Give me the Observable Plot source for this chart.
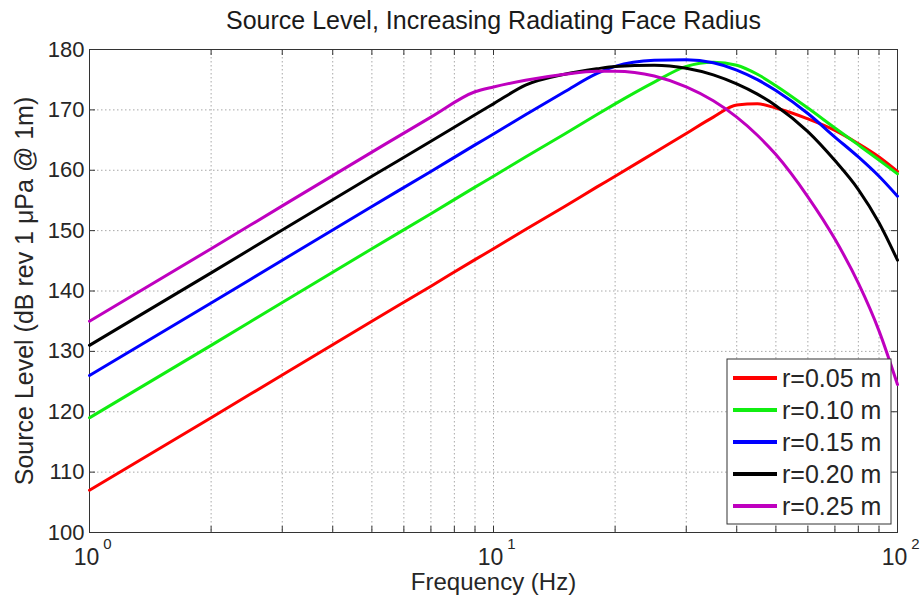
<!DOCTYPE html>
<html>
<head>
<meta charset="utf-8">
<script src="https://cdn.jsdelivr.net/npm/d3@7"></script>
<script src="https://cdn.jsdelivr.net/npm/@observablehq/plot@0.6"></script>
<style>
  html, body { margin: 0; padding: 0; background: #fff; }
  #chart { width: 920px; height: 603px; }
  #chart svg { display: block; }
</style>
</head>
<body>
<div id="chart"></div>
<script>
// Source level versus frequency for five radiating face radii
const frequencies = [1, 2, 3, 5, 7, 9, 10, 12, 15, 18, 20, 25, 30, 35, 40, 45, 50, 60, 70, 80, 90, 100];

const levelR005 = [107, 119.0, 126.1, 135.0, 140.8, 145.2, 147.0, 150.2, 154.0, 157.2, 159.0, 162.9, 166.1, 168.8, 170.8, 171.0, 170.3, 168.5, 166.6, 164.4, 162.2, 159.8];
const levelR010 = [119, 131.0, 138.1, 147.0, 152.8, 157.2, 159.0, 162.2, 166.0, 169.2, 171.0, 174.6, 177.2, 177.9, 177.4, 175.9, 174.0, 170.3, 167.0, 164.2, 161.7, 159.4];
const levelR015 = [126, 138.0, 145.1, 154.0, 159.8, 164.2, 166.0, 169.2, 173.0, 176.0, 177.2, 178.2, 178.3, 177.8, 176.6, 175.0, 173.2, 169.4, 165.5, 162.2, 159.0, 155.7];
const levelR020 = [131, 143.0, 150.1, 159.0, 164.8, 169.2, 171.0, 174.1, 175.9, 176.8, 177.2, 177.4, 176.9, 175.8, 174.3, 172.6, 170.7, 166.4, 161.6, 156.8, 151.3, 145.1];
const levelR025 = [135, 147.0, 154.1, 163.0, 168.8, 173.0, 173.8, 174.9, 175.9, 176.4, 176.4, 175.6, 173.8, 171.5, 168.8, 165.8, 162.6, 155.6, 148.6, 141.3, 133.4, 124.5];

const seriesNames = ["r=0.05 m", "r=0.10 m", "r=0.15 m", "r=0.20 m", "r=0.25 m"];
const seriesColors = ["#ff0000", "#11ee11", "#0000ff", "#000000", "#bf00bf"];
const seriesLevels = [levelR005, levelR010, levelR015, levelR020, levelR025];

const yTicks = [100, 110, 120, 130, 140, 150, 160, 170, 180];
const xMajorTicks = [1, 10, 100];
const xExponents = ["0", "1", "2"];
const xMinorTicks = [2, 3, 4, 5, 6, 7, 8, 9, 20, 30, 40, 50, 60, 70, 80, 90];

const titleText = "Source Level, Increasing Radiating Face Radius";
const xLabelText = "Frequency (Hz)";
const yLabelText = "Source Level (dB rev 1 \u03bcPa @ 1m)";

const rows = seriesNames.flatMap((name, i) =>
  frequencies.map((f, j) => ({name, f, level: seriesLevels[i][j]}))
);

const W = 920, H = 603;
const mTop = 49, mRight = 23, mBottom = 71, mLeft = 89;
const frameH = H - mTop - mBottom;
const frameW = W - mLeft - mRight;
const tickLen = 6;
const font = "'Liberation Sans', Arial, Helvetica, sans-serif";
const ink = "#262626";
const gridStyle = {stroke: "#a8a8a8", strokeOpacity: 1, strokeDasharray: "1.5,2.5", strokeWidth: 1};
const allXTicks = [...xMajorTicks, ...xMinorTicks];

const plot = Plot.plot({
  width: W,
  height: H,
  marginTop: mTop,
  marginRight: mRight,
  marginBottom: mBottom,
  marginLeft: mLeft,
  style: {fontFamily: font, fontSize: "22px", color: ink, background: "#fff", overflow: "visible"},
  x: {type: "log", domain: [1, 100], label: null},
  y: {domain: [100, 180], label: null},
  color: {domain: seriesNames, range: seriesColors},
  marks: [
    Plot.gridX(allXTicks, gridStyle),
    Plot.gridY(yTicks, gridStyle),
    // inward ticks on all four sides
    Plot.ruleX(allXTicks, {x: d => d, insetTop: frameH - tickLen, stroke: "#333"}),
    Plot.ruleX(allXTicks, {x: d => d, insetBottom: frameH - tickLen, stroke: "#333"}),
    Plot.ruleY(yTicks, {y: d => d, insetRight: frameW - tickLen, stroke: "#333"}),
    Plot.ruleY(yTicks, {y: d => d, insetLeft: frameW - tickLen, stroke: "#333"}),
    Plot.frame({stroke: "#333", strokeWidth: 1}),
    Plot.line(rows, {x: "f", y: "level", z: "name", stroke: "name", strokeWidth: 3, curve: "monotone-x"}),
    Plot.axisY(yTicks, {anchor: "left", tickSize: 0, tickPadding: 5, fontSize: 22, label: null}),
    Plot.axisX(xMajorTicks, {anchor: "bottom", tickSize: 0, tickPadding: 16, tickFormat: () => "10", fontSize: 23, dx: -3, label: null}),
    Plot.text(xMajorTicks, {x: d => d, text: (d, i) => xExponents[i], frameAnchor: "bottom", lineAnchor: "top", dy: 6, dx: 18, fontSize: 15, fill: ink}),
    Plot.text([xLabelText], {frameAnchor: "bottom", lineAnchor: "top", dy: 40, fontSize: 24, fill: ink}),
    Plot.text([yLabelText], {frameAnchor: "left", textAnchor: "middle", rotate: -90, dx: -65, fontSize: 25, fill: ink}),
    Plot.text([titleText], {frameAnchor: "top", lineAnchor: "bottom", dy: -21, fontSize: 25, fill: "#1a1a1a"})
  ]
});

// Legend box in the lower right corner of the axes
const svg = d3.select(plot);
const legend = svg.append("g")
  .attr("font-family", font).attr("font-size", 25).attr("fill", ink)
  .attr("text-anchor", "start");
const lx = 727, ly = 359, lw = 164, lh = 165, rowGap = 32;
legend.append("rect")
  .attr("x", lx).attr("y", ly).attr("width", lw).attr("height", lh)
  .attr("fill", "#fff").attr("stroke", "#333").attr("stroke-width", 1);
seriesNames.forEach((name, i) => {
  const cy = ly + 19 + i * rowGap;
  legend.append("line")
    .attr("x1", lx + 6).attr("x2", lx + 50).attr("y1", cy).attr("y2", cy)
    .attr("stroke", seriesColors[i]).attr("stroke-width", 4);
  legend.append("text")
    .attr("x", lx + 55).attr("y", cy + 9)
    .attr("text-anchor", "start")
    .text(name);
});

document.getElementById("chart").appendChild(plot);
</script>
</body>
</html>
